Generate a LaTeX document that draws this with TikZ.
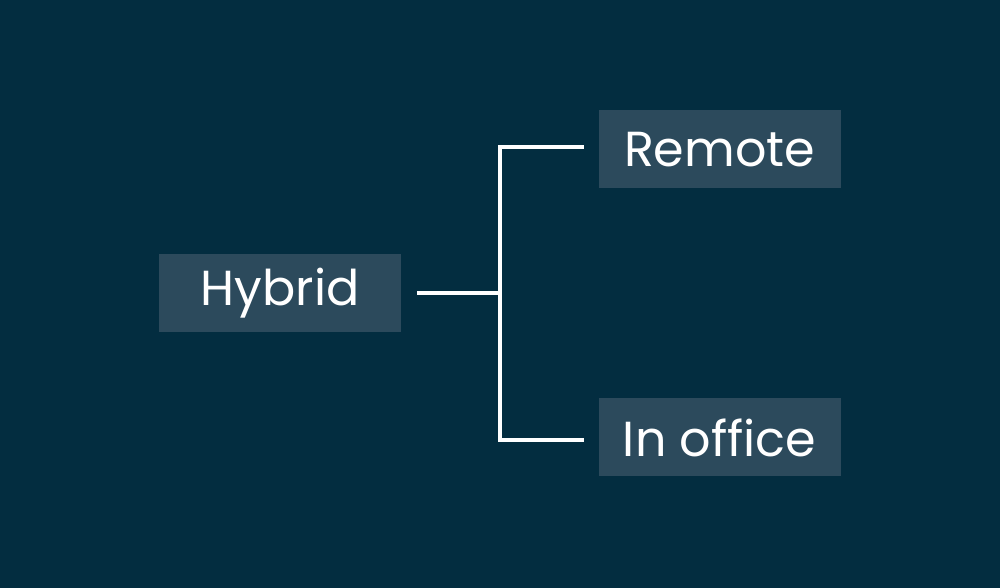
\documentclass[tikz,border=0pt]{standalone}
\usepackage{fontspec}
\setmainfont{Poppins}
\usepackage{tikz}

\definecolor{bgteal}{RGB}{3,45,64}
\definecolor{boxteal}{RGB}{44,74,92}

\begin{document}
\begin{tikzpicture}
\tikzset{
  item/.style={fill=boxteal, text=white, minimum width=4.84cm, minimum height=1.56cm,
               inner sep=0pt, font=\fontsize{28}{34}\selectfont},
  link/.style={draw=white, line width=2.1pt}
}
% Background
\fill[bgteal] (0,0) rectangle (20,11.76);
\useasboundingbox (0,0) rectangle (20,11.76);
% Boxes
\node[item] (hybrid) at (5.6,5.9) {Hybrid};
\node[item] (remote) at (14.39,8.77) {Remote};
\node[item] (office) at (14.39,3.01) {In office};
% Fork
\coordinate (fork) at (10.0,5.9);
\draw[link, shorten <=0.32cm] (hybrid.east) -- (fork);
\draw[link, shorten >=0.28cm] (fork) |- ([yshift=0.05cm]remote.west);
\draw[link, shorten >=0.28cm] (fork) |- ([yshift=-0.05cm]office.west);
\end{tikzpicture}
\end{document}
